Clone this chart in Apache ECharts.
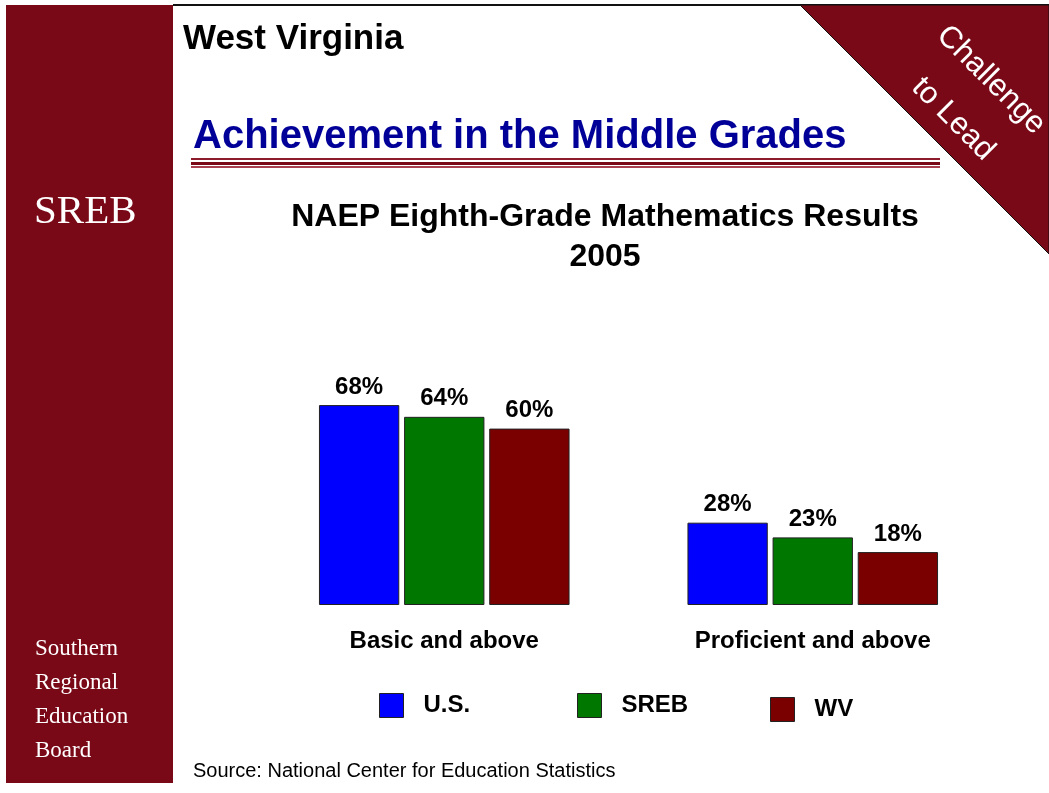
<!DOCTYPE html>
<html>
<head>
  <meta charset="utf-8">
  <title>NAEP Eighth-Grade Mathematics Results 2005</title>
  <script src="https://cdn.jsdelivr.net/npm/echarts@6/dist/echarts.min.js"></script>
  <style>
    html, body { margin: 0; padding: 0; background: #fff; }
    #chart { width: 1049px; height: 793px; }
  </style>
</head>
<body>
<div id="chart"></div>
<script type="text/javascript">
// 数据
var categories = ['Basic and above', 'Proficient and above'];
var seriesNames = ['U.S.', 'SREB', 'WV'];
var usValues = [68, 28];
var srebValues = [64, 23];
var wvValues = [60, 18];
var barColors = ['#0000ff', '#007800', '#7a0000'];

var maroon = '#7a0918';
var sans = '"Liberation Sans", Arial, sans-serif';
var serif = '"Liberation Serif", "Times New Roman", serif';

var chart = echarts.init(document.getElementById('chart'));

function makeSeries(name, data, color) {
  return {
    name: name,
    type: 'bar',
    data: data,
    barGap: '6%',
    barCategoryGap: '32%',
    itemStyle: { color: color, borderColor: '#222', borderWidth: 1 },
    label: {
      show: true,
      position: 'top',
      distance: 6,
      formatter: '{c}%',
      color: '#000',
      fontFamily: sans,
      fontWeight: 'bold',
      fontSize: 24
    }
  };
}

//图例 三个分开放
function makeLegend(name, left, top) {
  return {
    data: [name],
    left: left,
    top: top,
    padding: 0,
    itemWidth: 24,
    itemHeight: 24,
    icon: 'rect',
    selectedMode: false,
    itemStyle: { borderColor: '#222', borderWidth: 1 },
    textStyle: { fontFamily: sans, fontWeight: 'bold', fontSize: 24, color: '#000', padding: [0, 0, 0, 15] }
  };
}

var option = {
  animation: false,
  backgroundColor: '#fff',
  title: {
    text: 'NAEP Eighth-Grade Mathematics Results\n2005',
    left: 605,
    top: 197,
    padding: 0,
    textAlign: 'center',
    textStyle: { fontFamily: sans, fontWeight: 'bold', fontSize: 32, lineHeight: 40, color: '#000' }
  },
  legend: [
    makeLegend('U.S.', 379, 693),
    makeLegend('SREB', 577, 693),
    makeLegend('WV', 770, 697)
  ],
  grid: { left: 260, right: 52, top: 311, bottom: 188 },
  xAxis: {
    type: 'category',
    data: categories,
    axisLine: { show: false },
    axisTick: { show: false },
    axisLabel: { margin: 24, color: '#000', fontFamily: sans, fontWeight: 'bold', fontSize: 24 }
  },
  yAxis: {
    type: 'value',
    min: 0,
    max: 100,
    show: false,
    splitLine: { show: false }
  },
  series: [
    makeSeries(seriesNames[0], usValues, barColors[0]),
    makeSeries(seriesNames[1], srebValues, barColors[1]),
    makeSeries(seriesNames[2], wvValues, barColors[2])
  ],
  graphic: [
    // 左侧栏
    { type: 'rect', shape: { x: 6, y: 5, width: 167, height: 778 }, style: { fill: maroon }, z: 1 },
    // 顶部线
    { type: 'line', shape: { x1: 173, y1: 5, x2: 1049, y2: 5 }, style: { stroke: '#111', lineWidth: 2 }, z: 1 },
    // 右上角三角
    { type: 'polygon', shape: { points: [[800, 5], [1049, 5], [1049, 254]] }, style: { fill: maroon, stroke: '#111', lineWidth: 1 }, z: 2 },
    { type: 'text', x: 991, y: 80, rotation: -Math.PI / 4, z: 3,
      style: { text: 'Challenge', fill: '#fff', font: '31px ' + sans, align: 'center', verticalAlign: 'middle' } },
    { type: 'text', x: 953, y: 119, rotation: -Math.PI / 4, z: 3,
      style: { text: 'to Lead', fill: '#fff', font: '31px ' + sans, align: 'center', verticalAlign: 'middle' } },
    // 标题
    { type: 'text', x: 183, y: 39, z: 3,
      style: { text: 'West Virginia', fill: '#000', font: 'bold 35px ' + sans, verticalAlign: 'middle' } },
    { type: 'text', x: 193, y: 137, z: 3,
      style: { text: 'Achievement in the Middle Grades', fill: '#000099', font: 'bold 40px ' + sans, verticalAlign: 'middle' } },
    { type: 'rect', shape: { x: 191, y: 158, width: 749, height: 2 }, style: { fill: '#8c1c2c' }, z: 3 },
    { type: 'rect', shape: { x: 191, y: 162, width: 749, height: 3 }, style: { fill: '#7a0918' }, z: 3 },
    { type: 'rect', shape: { x: 191, y: 166, width: 749, height: 2 }, style: { fill: '#a8404f' }, z: 3 },
    // 左侧文字
    { type: 'text', x: 34, y: 212, z: 3,
      style: { text: 'SREB', fill: '#fff', font: '41px ' + serif, verticalAlign: 'middle' } },
    { type: 'text', x: 35, y: 649, z: 3,
      style: { text: 'Southern', fill: '#fff', font: '23px ' + serif, verticalAlign: 'middle' } },
    { type: 'text', x: 35, y: 683, z: 3,
      style: { text: 'Regional', fill: '#fff', font: '23px ' + serif, verticalAlign: 'middle' } },
    { type: 'text', x: 35, y: 717, z: 3,
      style: { text: 'Education', fill: '#fff', font: '23px ' + serif, verticalAlign: 'middle' } },
    { type: 'text', x: 35, y: 751, z: 3,
      style: { text: 'Board', fill: '#fff', font: '23px ' + serif, verticalAlign: 'middle' } },
    // 来源
    { type: 'text', x: 193, y: 771, z: 3,
      style: { text: 'Source: National Center for Education Statistics', fill: '#000', font: '20px ' + sans, verticalAlign: 'middle' } }
  ]
};

chart.setOption(option);
</script>
</body>
</html>
